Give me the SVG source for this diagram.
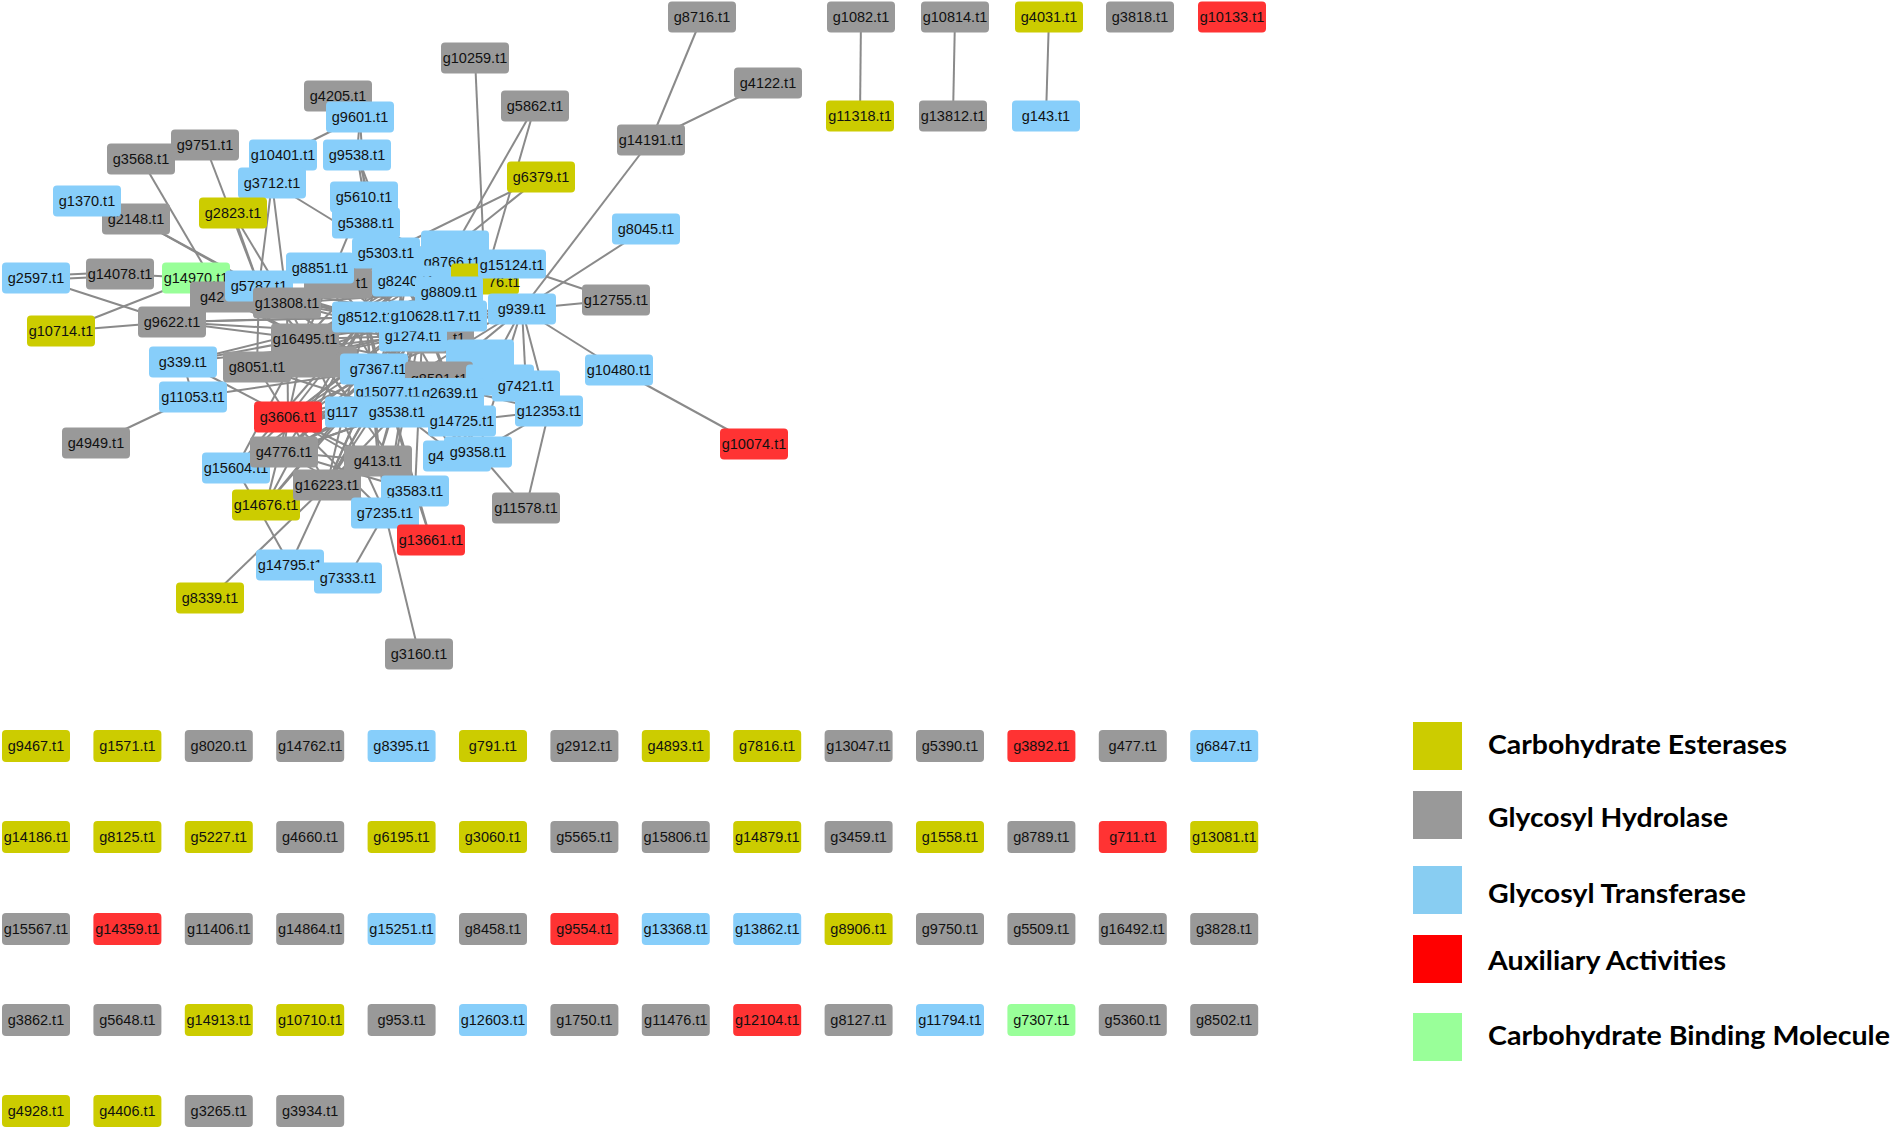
<svg xmlns="http://www.w3.org/2000/svg" width="1892" height="1130" viewBox="0 0 1892 1130">
<style>
.e line{stroke:#8a8a8a;stroke-width:2;fill:none}
.ce{fill:#cccc00}.gh{fill:#999999}.gt{fill:#87cefa}.aa{fill:#ff3333}.cb{fill:#99ff99}
text.t{font-family:"Liberation Sans",Arial,sans-serif;font-size:14.5px;text-anchor:middle;fill:#111}
text.s{font-family:"Liberation Sans",Arial,sans-serif;font-size:14.5px;fill:#111}
text.l{font-family:Lato,"Open Sans","Liberation Sans",sans-serif;font-size:27px;font-weight:bold;fill:#000}
</style>
<rect width="1892" height="1130" fill="#fff"/>
<g id="connectors" class="e">
<line x1="702" y1="17" x2="651" y2="140"/><line x1="768" y1="83" x2="651" y2="140"/><line x1="651" y1="140" x2="522" y2="309"/>
<line x1="475" y1="58" x2="485" y2="279"/><line x1="535" y1="106" x2="455" y2="246"/><line x1="535" y1="106" x2="485" y2="279"/>
<line x1="541" y1="177" x2="386" y2="253"/><line x1="541" y1="177" x2="366" y2="317"/>
<line x1="646" y1="229" x2="522" y2="309"/><line x1="616" y1="300" x2="522" y2="309"/><line x1="616" y1="300" x2="512" y2="265"/>
<line x1="619" y1="370" x2="522" y2="309"/><line x1="619" y1="370" x2="754" y2="444"/>
<line x1="526" y1="508" x2="549" y2="411"/><line x1="526" y1="508" x2="478" y2="452"/>
<line x1="419" y1="654" x2="385" y2="513"/><line x1="431" y1="540" x2="415" y2="491"/><line x1="431" y1="540" x2="388" y2="392"/>
<line x1="348" y1="578" x2="385" y2="513"/><line x1="290" y1="565" x2="327" y2="485"/><line x1="290" y1="565" x2="236" y2="468"/>
<line x1="210" y1="598" x2="327" y2="485"/><line x1="96" y1="443" x2="193" y2="397"/><line x1="193" y1="397" x2="378" y2="370"/>
<line x1="183" y1="362" x2="288" y2="417"/><line x1="183" y1="362" x2="305" y2="339"/><line x1="183" y1="362" x2="193" y2="397"/>
<line x1="61" y1="331" x2="172" y2="322"/><line x1="61" y1="331" x2="196" y2="278"/>
<line x1="36" y1="276" x2="120" y2="272"/><line x1="36" y1="280" x2="120" y2="276"/><line x1="36" y1="278" x2="172" y2="322"/>
<line x1="120" y1="274" x2="196" y2="278"/><line x1="141" y1="159" x2="222" y2="297"/>
<line x1="136" y1="219" x2="259" y2="286"/><line x1="136" y1="219" x2="287" y2="303"/><line x1="205" y1="145" x2="259" y2="286"/>
<line x1="233" y1="213" x2="259" y2="286"/><line x1="233" y1="213" x2="287" y2="303"/>
<line x1="272" y1="183" x2="259" y2="286"/><line x1="272" y1="183" x2="287" y2="303"/><line x1="272" y1="183" x2="386" y2="253"/>
<line x1="283" y1="155" x2="360" y2="117"/><line x1="360" y1="117" x2="357" y2="155"/><line x1="360" y1="117" x2="366" y2="223"/>
<line x1="357" y1="155" x2="364" y2="197"/><line x1="357" y1="155" x2="386" y2="253"/><line x1="357" y1="155" x2="406" y2="281"/>
<line x1="366" y1="223" x2="452" y2="262"/><line x1="366" y1="223" x2="449" y2="292"/>
<line x1="259" y1="286" x2="287" y2="303"/><line x1="259" y1="286" x2="320" y2="268"/><line x1="259" y1="286" x2="366" y2="317"/>
<line x1="259" y1="286" x2="305" y2="339"/><line x1="259" y1="286" x2="423" y2="316"/><line x1="259" y1="286" x2="413" y2="336"/>
<line x1="259" y1="286" x2="378" y2="370"/><line x1="259" y1="286" x2="257" y2="367"/>
<line x1="287" y1="303" x2="366" y2="317"/><line x1="287" y1="303" x2="423" y2="316"/><line x1="287" y1="303" x2="305" y2="339"/>
<line x1="287" y1="303" x2="449" y2="292"/><line x1="287" y1="303" x2="413" y2="336"/><line x1="287" y1="303" x2="288" y2="417"/>
<line x1="320" y1="268" x2="366" y2="317"/><line x1="320" y1="268" x2="423" y2="316"/><line x1="320" y1="268" x2="413" y2="336"/>
<line x1="320" y1="268" x2="305" y2="339"/><line x1="320" y1="268" x2="378" y2="370"/>
<line x1="386" y1="253" x2="366" y2="317"/><line x1="386" y1="253" x2="423" y2="316"/><line x1="386" y1="253" x2="413" y2="336"/><line x1="386" y1="253" x2="305" y2="339"/>
<line x1="406" y1="281" x2="366" y2="317"/><line x1="406" y1="281" x2="305" y2="339"/><line x1="406" y1="281" x2="378" y2="370"/><line x1="406" y1="281" x2="388" y2="392"/>
<line x1="366" y1="317" x2="305" y2="339"/><line x1="366" y1="317" x2="257" y2="367"/><line x1="366" y1="317" x2="378" y2="370"/>
<line x1="366" y1="317" x2="288" y2="417"/><line x1="366" y1="317" x2="284" y2="452"/><line x1="366" y1="317" x2="378" y2="461"/>
<line x1="423" y1="316" x2="305" y2="339"/><line x1="423" y1="316" x2="257" y2="367"/><line x1="423" y1="316" x2="288" y2="417"/><line x1="423" y1="316" x2="284" y2="452"/>
<line x1="449" y1="292" x2="305" y2="339"/><line x1="449" y1="292" x2="378" y2="370"/><line x1="449" y1="292" x2="288" y2="417"/>
<line x1="413" y1="336" x2="305" y2="339"/><line x1="413" y1="336" x2="257" y2="367"/><line x1="413" y1="336" x2="288" y2="417"/>
<line x1="413" y1="336" x2="284" y2="452"/><line x1="413" y1="336" x2="327" y2="485"/>
<line x1="305" y1="339" x2="288" y2="417"/><line x1="305" y1="339" x2="378" y2="370"/><line x1="305" y1="339" x2="388" y2="392"/><line x1="305" y1="339" x2="359" y2="412"/>
<line x1="257" y1="367" x2="378" y2="370"/><line x1="257" y1="367" x2="288" y2="417"/><line x1="257" y1="367" x2="397" y2="412"/>
<line x1="378" y1="370" x2="288" y2="417"/><line x1="378" y1="370" x2="284" y2="452"/><line x1="378" y1="370" x2="327" y2="485"/><line x1="378" y1="370" x2="522" y2="309"/>
<line x1="388" y1="392" x2="288" y2="417"/><line x1="388" y1="392" x2="284" y2="452"/><line x1="388" y1="392" x2="327" y2="485"/>
<line x1="450" y1="393" x2="288" y2="417"/><line x1="450" y1="393" x2="284" y2="452"/>
<line x1="397" y1="412" x2="284" y2="452"/><line x1="397" y1="412" x2="327" y2="485"/><line x1="397" y1="412" x2="288" y2="417"/>
<line x1="359" y1="412" x2="284" y2="452"/><line x1="359" y1="412" x2="327" y2="485"/>
<line x1="462" y1="421" x2="305" y2="339"/><line x1="462" y1="421" x2="366" y2="317"/><line x1="462" y1="421" x2="288" y2="417"/><line x1="462" y1="421" x2="423" y2="316"/>
<line x1="288" y1="417" x2="378" y2="461"/><line x1="288" y1="417" x2="415" y2="491"/><line x1="288" y1="417" x2="385" y2="513"/><line x1="288" y1="417" x2="284" y2="452"/>
<line x1="284" y1="452" x2="378" y2="461"/><line x1="284" y1="452" x2="385" y2="513"/><line x1="284" y1="452" x2="415" y2="491"/>
<line x1="378" y1="461" x2="423" y2="316"/><line x1="378" y1="461" x2="413" y2="336"/>
<line x1="327" y1="485" x2="366" y2="317"/><line x1="327" y1="485" x2="423" y2="316"/><line x1="327" y1="485" x2="288" y2="417"/>
<line x1="415" y1="491" x2="366" y2="317"/><line x1="415" y1="491" x2="423" y2="316"/><line x1="415" y1="491" x2="305" y2="339"/>
<line x1="385" y1="513" x2="366" y2="317"/><line x1="385" y1="513" x2="413" y2="336"/><line x1="385" y1="513" x2="305" y2="339"/><line x1="385" y1="513" x2="423" y2="316"/>
<line x1="478" y1="452" x2="366" y2="317"/><line x1="478" y1="452" x2="423" y2="316"/><line x1="478" y1="452" x2="305" y2="339"/>
<line x1="478" y1="452" x2="413" y2="336"/><line x1="478" y1="452" x2="378" y2="370"/>
<line x1="457" y1="456" x2="305" y2="339"/><line x1="457" y1="456" x2="366" y2="317"/>
<line x1="526" y1="386" x2="366" y2="317"/><line x1="526" y1="386" x2="423" y2="316"/><line x1="526" y1="386" x2="305" y2="339"/><line x1="526" y1="386" x2="378" y2="370"/>
<line x1="549" y1="411" x2="478" y2="452"/><line x1="549" y1="411" x2="462" y2="421"/><line x1="549" y1="411" x2="378" y2="370"/>
<line x1="522" y1="309" x2="366" y2="317"/><line x1="522" y1="309" x2="423" y2="316"/><line x1="522" y1="309" x2="305" y2="339"/>
<line x1="522" y1="309" x2="413" y2="336"/><line x1="522" y1="309" x2="257" y2="367"/><line x1="522" y1="309" x2="388" y2="392"/>
<line x1="522" y1="309" x2="397" y2="412"/><line x1="522" y1="309" x2="526" y2="386"/><line x1="522" y1="309" x2="549" y2="411"/>
<line x1="522" y1="309" x2="478" y2="452"/><line x1="522" y1="309" x2="462" y2="421"/>
<line x1="512" y1="265" x2="366" y2="317"/><line x1="512" y1="265" x2="305" y2="339"/><line x1="512" y1="265" x2="423" y2="316"/>
<line x1="485" y1="279" x2="305" y2="339"/><line x1="485" y1="279" x2="366" y2="317"/>
<line x1="452" y1="262" x2="366" y2="317"/><line x1="452" y1="262" x2="305" y2="339"/>
<line x1="455" y1="246" x2="305" y2="339"/><line x1="455" y1="246" x2="287" y2="303"/>
<line x1="172" y1="322" x2="305" y2="339"/><line x1="172" y1="322" x2="366" y2="317"/><line x1="172" y1="322" x2="423" y2="316"/><line x1="172" y1="322" x2="413" y2="336"/>
<line x1="196" y1="278" x2="287" y2="303"/><line x1="196" y1="278" x2="366" y2="317"/><line x1="196" y1="278" x2="305" y2="339"/>
<line x1="222" y1="297" x2="423" y2="316"/><line x1="222" y1="297" x2="305" y2="339"/>
<line x1="183" y1="362" x2="366" y2="317"/><line x1="183" y1="362" x2="413" y2="336"/>
<line x1="236" y1="468" x2="305" y2="339"/><line x1="236" y1="468" x2="413" y2="336"/><line x1="236" y1="468" x2="366" y2="317"/><line x1="236" y1="468" x2="288" y2="417"/>
<line x1="266" y1="505" x2="366" y2="317"/><line x1="266" y1="505" x2="423" y2="316"/><line x1="266" y1="505" x2="413" y2="336"/><line x1="266" y1="505" x2="288" y2="417"/>
<line x1="364" y1="197" x2="366" y2="317"/><line x1="364" y1="197" x2="423" y2="316"/><line x1="364" y1="197" x2="305" y2="339"/>
<line x1="861" y1="17" x2="860" y2="116"/><line x1="955" y1="17" x2="953" y2="116"/><line x1="1049" y1="17" x2="1046" y2="116"/>
</g>
<g id="network-nodes">
<g id="n-g8716"><rect class="gh" x="668" y="1.5" width="68" height="31" rx="4"/><text class="t" x="702" y="22">g8716.t1</text></g>
<g id="n-g4122"><rect class="gh" x="734" y="67.5" width="68" height="31" rx="4"/><text class="t" x="768" y="88">g4122.t1</text></g>
<g id="n-g14191"><rect class="gh" x="617" y="124.5" width="68" height="31" rx="4"/><text class="t" x="651" y="145">g14191.t1</text></g>
<g id="n-g10259"><rect class="gh" x="441" y="42.5" width="68" height="31" rx="4"/><text class="t" x="475" y="63">g10259.t1</text></g>
<g id="n-g5862"><rect class="gh" x="501" y="90.5" width="68" height="31" rx="4"/><text class="t" x="535" y="111">g5862.t1</text></g>
<g id="n-g6379"><rect class="ce" x="507" y="161.5" width="68" height="31" rx="4"/><text class="t" x="541" y="182">g6379.t1</text></g>
<g id="n-g1082"><rect class="gh" x="827" y="1.5" width="68" height="31" rx="4"/><text class="t" x="861" y="22">g1082.t1</text></g>
<g id="n-g10814"><rect class="gh" x="921" y="1.5" width="68" height="31" rx="4"/><text class="t" x="955" y="22">g10814.t1</text></g>
<g id="n-g4031"><rect class="ce" x="1015" y="1.5" width="68" height="31" rx="4"/><text class="t" x="1049" y="22">g4031.t1</text></g>
<g id="n-g3818"><rect class="gh" x="1106" y="1.5" width="68" height="31" rx="4"/><text class="t" x="1140" y="22">g3818.t1</text></g>
<g id="n-g10133"><rect class="aa" x="1198" y="1.5" width="68" height="31" rx="4"/><text class="t" x="1232" y="22">g10133.t1</text></g>
<g id="n-g11318"><rect class="ce" x="826" y="100.5" width="68" height="31" rx="4"/><text class="t" x="860" y="121">g11318.t1</text></g>
<g id="n-g13812"><rect class="gh" x="919" y="100.5" width="68" height="31" rx="4"/><text class="t" x="953" y="121">g13812.t1</text></g>
<g id="n-g143"><rect class="gt" x="1012" y="100.5" width="68" height="31" rx="4"/><text class="t" x="1046" y="121">g143.t1</text></g>
<g id="n-g4205"><rect class="gh" x="304" y="80.5" width="68" height="31" rx="4"/><text class="t" x="338" y="101">g4205.t1</text></g>
<g id="n-g9601"><rect class="gt" x="326" y="101.5" width="68" height="31" rx="4"/><text class="t" x="360" y="122">g9601.t1</text></g>
<g id="n-g10401"><rect class="gt" x="249" y="139.5" width="68" height="31" rx="4"/><text class="t" x="283" y="160">g10401.t1</text></g>
<g id="n-g9538"><rect class="gt" x="323" y="139.5" width="68" height="31" rx="4"/><text class="t" x="357" y="160">g9538.t1</text></g>
<g id="n-g3568"><rect class="gh" x="107" y="143.5" width="68" height="31" rx="4"/><text class="t" x="141" y="164">g3568.t1</text></g>
<g id="n-g9751"><rect class="gh" x="171" y="129.5" width="68" height="31" rx="4"/><text class="t" x="205" y="150">g9751.t1</text></g>
<g id="n-g3712"><rect class="gt" x="238" y="167.5" width="68" height="31" rx="4"/><text class="t" x="272" y="188">g3712.t1</text></g>
<g id="n-g2823"><rect class="ce" x="199" y="197.5" width="68" height="31" rx="4"/><text class="t" x="233" y="218">g2823.t1</text></g>
<g id="n-g2148"><rect class="gh" x="102" y="203.5" width="68" height="31" rx="4"/><text class="t" x="136" y="224">g2148.t1</text></g>
<g id="n-g1370"><rect class="gt" x="53" y="185.5" width="68" height="31" rx="4"/><text class="t" x="87" y="206">g1370.t1</text></g>
<g id="n-g5610"><rect class="gt" x="330" y="181.5" width="68" height="31" rx="4"/><text class="t" x="364" y="202">g5610.t1</text></g>
<g id="n-g5388"><rect class="gt" x="332" y="207.5" width="68" height="31" rx="4"/><text class="t" x="366" y="228">g5388.t1</text></g>
<g id="n-hidden-a"><rect class="gh" x="304" y="267.5" width="68" height="31" rx="4"/><text class="s" x="356" y="288">t1</text></g>
<g id="n-g5303"><rect class="gt" x="352" y="237.5" width="68" height="31" rx="4"/><text class="t" x="386" y="258">g5303.t1</text></g>
<g id="n-g8851"><rect class="gt" x="286" y="252.5" width="68" height="31" rx="4"/><text class="t" x="320" y="273">g8851.t1</text></g>
<g id="n-hidden-b"><rect class="gt" x="421" y="230.5" width="68" height="31" rx="4"/></g>
<g id="n-g8766"><rect class="gt" x="418" y="246.5" width="68" height="31" rx="4"/><text class="t" x="452" y="267">g8766.t1</text></g>
<g id="n-hidden-y"><rect class="ce" x="451" y="263.5" width="68" height="31" rx="4"/><text class="s" x="488" y="287">76.t1</text></g>
<g id="n-g15124"><rect class="gt" x="478" y="249.5" width="68" height="29" rx="4"/><text class="t" x="512" y="270">g15124.t1</text></g>
<g id="n-g8240"><rect class="gt" x="372" y="265.5" width="68" height="31" rx="4"/><text class="t" x="406" y="286">g8240.t1</text></g>
<g id="n-g8809"><rect class="gt" x="415" y="276.5" width="68" height="31" rx="4"/><text class="t" x="449" y="297">g8809.t1</text></g>
<g id="n-g939"><rect class="gt" x="488" y="293.5" width="68" height="31" rx="4"/><text class="t" x="522" y="314">g939.t1</text></g>
<g id="n-g14078"><rect class="gh" x="86" y="258.5" width="68" height="31" rx="4"/><text class="t" x="120" y="279">g14078.t1</text></g>
<g id="n-g2597"><rect class="gt" x="2" y="262.5" width="68" height="31" rx="4"/><text class="t" x="36" y="283">g2597.t1</text></g>
<g id="n-g14970"><rect class="cb" x="162" y="262.5" width="68" height="31" rx="4"/><text class="t" x="196" y="283">g14970.t1</text></g>
<g id="n-g9622"><rect class="gh" x="138" y="306.5" width="68" height="31" rx="4"/><text class="t" x="172" y="327">g9622.t1</text></g>
<g id="n-g42"><rect class="gh" x="190" y="281.5" width="68" height="31" rx="4"/><text class="s" x="200" y="302">g42</text></g>
<g id="n-g5787"><rect class="gt" x="225" y="270.5" width="68" height="31" rx="4"/><text class="t" x="259" y="291">g5787.t1</text></g>
<g id="n-g13808"><rect class="gh" x="253" y="287.5" width="68" height="31" rx="4"/><text class="t" x="287" y="308">g13808.t1</text></g>
<g id="n-g10714"><rect class="ce" x="27" y="315.5" width="68" height="31" rx="4"/><text class="t" x="61" y="336">g10714.t1</text></g>
<g id="n-g339"><rect class="gt" x="149" y="346.5" width="68" height="31" rx="4"/><text class="t" x="183" y="367">g339.t1</text></g>
<g id="n-g11053"><rect class="gt" x="159" y="381.5" width="68" height="31" rx="4"/><text class="t" x="193" y="402">g11053.t1</text></g>
<g id="n-g4949"><rect class="gh" x="62" y="427.5" width="68" height="31" rx="4"/><text class="t" x="96" y="448">g4949.t1</text></g>
<g id="n-hidden-c"><rect class="gh" x="289" y="346.5" width="68" height="31" rx="4"/></g>
<g id="n-g8051"><rect class="gh" x="223" y="351.5" width="68" height="31" rx="4"/><text class="t" x="257" y="372">g8051.t1</text></g>
<g id="n-g16495"><rect class="gh" x="271" y="323.5" width="68" height="31" rx="4"/><text class="t" x="305" y="344">g16495.t1</text></g>
<g id="n-hidden-d"><rect class="gh" x="406" y="322.5" width="68" height="31" rx="4"/><text class="s" x="449" y="343">.t1</text></g>
<g id="n-g1274"><rect class="gt" x="379" y="320.5" width="68" height="31" rx="4"/><text class="t" x="413" y="341">g1274.t1</text></g>
<g id="n-hidden-e"><rect class="gt" x="419" y="300.5" width="68" height="31" rx="4"/><text class="s" x="457" y="321">7.t1</text></g>
<g id="n-g8512"><rect class="gt" x="332" y="301.5" width="68" height="31" rx="4"/><text class="t" x="366" y="322">g8512.t1</text></g>
<g id="n-g10628"><rect class="gt" x="389" y="300.5" width="68" height="31" rx="4"/><text class="t" x="423" y="321">g10628.t1</text></g>
<g id="n-g7367"><rect class="gt" x="340" y="353.5" width="68" height="31" rx="4"/><text class="t" x="378" y="374">g7367.t1</text></g>
<g id="n-hidden-f"><rect class="gt" x="446" y="339.5" width="68" height="31" rx="4"/></g>
<g id="n-g8591"><rect class="gh" x="405" y="361.5" width="68" height="31" rx="4"/><text class="t" x="439" y="384">g8591.t1</text></g>
<g id="n-hidden-g"><rect class="gt" x="466" y="364.5" width="68" height="31" rx="4"/></g>
<g id="n-g2639"><rect class="gt" x="416" y="378" width="68" height="31" rx="4"/><text class="t" x="450" y="398">g2639.t1</text></g>
<g id="n-g15077"><rect class="gt" x="354" y="378" width="68" height="31" rx="4"/><text class="t" x="388" y="397">g15077.t1</text></g>
<g id="n-g7421"><rect class="gt" x="492" y="370.5" width="68" height="31" rx="4"/><text class="t" x="526" y="391">g7421.t1</text></g>
<g id="n-g117"><rect class="gt" x="325" y="396.5" width="68" height="31" rx="4"/><text class="s" x="327" y="417">g117</text></g>
<g id="n-g3538"><rect class="gt" x="363" y="396.5" width="68" height="31" rx="4"/><text class="t" x="397" y="417">g3538.t1</text></g>
<g id="n-g14725"><rect class="gt" x="428" y="405.5" width="68" height="31" rx="4"/><text class="t" x="462" y="426">g14725.t1</text></g>
<g id="n-g12353"><rect class="gt" x="515" y="395.5" width="68" height="31" rx="4"/><text class="t" x="549" y="416">g12353.t1</text></g>
<g id="n-g3606"><rect class="aa" x="254" y="401.5" width="68" height="31" rx="4"/><text class="t" x="288" y="422">g3606.t1</text></g>
<g id="n-g15604"><rect class="gt" x="202" y="452.5" width="68" height="31" rx="4"/><text class="t" x="236" y="473">g15604.t1</text></g>
<g id="n-g4776"><rect class="gh" x="250" y="436.5" width="68" height="31" rx="4"/><text class="t" x="284" y="457">g4776.t1</text></g>
<g id="n-g14676"><rect class="ce" x="232" y="489.5" width="68" height="31" rx="4"/><text class="t" x="266" y="510">g14676.t1</text></g>
<g id="n-g413"><rect class="gh" x="344" y="445.5" width="68" height="31" rx="4"/><text class="t" x="378" y="466">g413.t1</text></g>
<g id="n-g16223"><rect class="gh" x="293" y="469.5" width="68" height="31" rx="4"/><text class="t" x="327" y="490">g16223.t1</text></g>
<g id="n-g4"><rect class="gt" x="423" y="440.5" width="68" height="31" rx="4"/><text class="s" x="428" y="461">g4</text></g>
<g id="n-g9358"><rect class="gt" x="444" y="436.5" width="68" height="31" rx="4"/><text class="t" x="478" y="457">g9358.t1</text></g>
<g id="n-g11578"><rect class="gh" x="492" y="492.5" width="68" height="31" rx="4"/><text class="t" x="526" y="513">g11578.t1</text></g>
<g id="n-g3583"><rect class="gt" x="381" y="475.5" width="68" height="31" rx="4"/><text class="t" x="415" y="496">g3583.t1</text></g>
<g id="n-g7235"><rect class="gt" x="351" y="497.5" width="68" height="31" rx="4"/><text class="t" x="385" y="518">g7235.t1</text></g>
<g id="n-g13661"><rect class="aa" x="397" y="524.5" width="68" height="31" rx="4"/><text class="t" x="431" y="545">g13661.t1</text></g>
<g id="n-g14795"><rect class="gt" x="256" y="549.5" width="68" height="31" rx="4"/><text class="t" x="290" y="570">g14795.t1</text></g>
<g id="n-g7333"><rect class="gt" x="314" y="562.5" width="68" height="31" rx="4"/><text class="t" x="348" y="583">g7333.t1</text></g>
<g id="n-g3160"><rect class="gh" x="385" y="638.5" width="68" height="31" rx="4"/><text class="t" x="419" y="659">g3160.t1</text></g>
<g id="n-g8339"><rect class="ce" x="176" y="582.5" width="68" height="31" rx="4"/><text class="t" x="210" y="603">g8339.t1</text></g>
<g id="n-g8045"><rect class="gt" x="612" y="213.5" width="68" height="31" rx="4"/><text class="t" x="646" y="234">g8045.t1</text></g>
<g id="n-g12755"><rect class="gh" x="582" y="284.5" width="68" height="31" rx="4"/><text class="t" x="616" y="305">g12755.t1</text></g>
<g id="n-g10480"><rect class="gt" x="585" y="354.5" width="68" height="31" rx="4"/><text class="t" x="619" y="375">g10480.t1</text></g>
<g id="n-g10074"><rect class="aa" x="720" y="428.5" width="68" height="31" rx="4"/><text class="t" x="754" y="449">g10074.t1</text></g>
</g>
<g id="singletons">
<g id="r1">
<rect class="ce" x="2" y="730" width="68" height="32" rx="4"/><text class="t" x="36" y="751">g9467.t1</text>
<rect class="ce" x="93.4" y="730" width="68" height="32" rx="4"/><text class="t" x="127.4" y="751">g1571.t1</text>
<rect class="gh" x="184.8" y="730" width="68" height="32" rx="4"/><text class="t" x="218.8" y="751">g8020.t1</text>
<rect class="gh" x="276.2" y="730" width="68" height="32" rx="4"/><text class="t" x="310.2" y="751">g14762.t1</text>
<rect class="gt" x="367.6" y="730" width="68" height="32" rx="4"/><text class="t" x="401.6" y="751">g8395.t1</text>
<rect class="ce" x="459" y="730" width="68" height="32" rx="4"/><text class="t" x="493" y="751">g791.t1</text>
<rect class="gh" x="550.4" y="730" width="68" height="32" rx="4"/><text class="t" x="584.4" y="751">g2912.t1</text>
<rect class="ce" x="641.8" y="730" width="68" height="32" rx="4"/><text class="t" x="675.8" y="751">g4893.t1</text>
<rect class="ce" x="733.2" y="730" width="68" height="32" rx="4"/><text class="t" x="767.2" y="751">g7816.t1</text>
<rect class="gh" x="824.6" y="730" width="68" height="32" rx="4"/><text class="t" x="858.6" y="751">g13047.t1</text>
<rect class="gh" x="916" y="730" width="68" height="32" rx="4"/><text class="t" x="950" y="751">g5390.t1</text>
<rect class="aa" x="1007.4" y="730" width="68" height="32" rx="4"/><text class="t" x="1041.4" y="751">g3892.t1</text>
<rect class="gh" x="1098.8" y="730" width="68" height="32" rx="4"/><text class="t" x="1132.8" y="751">g477.t1</text>
<rect class="gt" x="1190.2" y="730" width="68" height="32" rx="4"/><text class="t" x="1224.2" y="751">g6847.t1</text>
</g>
<g id="r2">
<rect class="ce" x="2" y="821" width="68" height="32" rx="4"/><text class="t" x="36" y="842">g14186.t1</text>
<rect class="ce" x="93.4" y="821" width="68" height="32" rx="4"/><text class="t" x="127.4" y="842">g8125.t1</text>
<rect class="ce" x="184.8" y="821" width="68" height="32" rx="4"/><text class="t" x="218.8" y="842">g5227.t1</text>
<rect class="gh" x="276.2" y="821" width="68" height="32" rx="4"/><text class="t" x="310.2" y="842">g4660.t1</text>
<rect class="ce" x="367.6" y="821" width="68" height="32" rx="4"/><text class="t" x="401.6" y="842">g6195.t1</text>
<rect class="ce" x="459" y="821" width="68" height="32" rx="4"/><text class="t" x="493" y="842">g3060.t1</text>
<rect class="gh" x="550.4" y="821" width="68" height="32" rx="4"/><text class="t" x="584.4" y="842">g5565.t1</text>
<rect class="gh" x="641.8" y="821" width="68" height="32" rx="4"/><text class="t" x="675.8" y="842">g15806.t1</text>
<rect class="ce" x="733.2" y="821" width="68" height="32" rx="4"/><text class="t" x="767.2" y="842">g14879.t1</text>
<rect class="gh" x="824.6" y="821" width="68" height="32" rx="4"/><text class="t" x="858.6" y="842">g3459.t1</text>
<rect class="ce" x="916" y="821" width="68" height="32" rx="4"/><text class="t" x="950" y="842">g1558.t1</text>
<rect class="gh" x="1007.4" y="821" width="68" height="32" rx="4"/><text class="t" x="1041.4" y="842">g8789.t1</text>
<rect class="aa" x="1098.8" y="821" width="68" height="32" rx="4"/><text class="t" x="1132.8" y="842">g711.t1</text>
<rect class="ce" x="1190.2" y="821" width="68" height="32" rx="4"/><text class="t" x="1224.2" y="842">g13081.t1</text>
</g>
<g id="r3">
<rect class="gh" x="2" y="913" width="68" height="32" rx="4"/><text class="t" x="36" y="934">g15567.t1</text>
<rect class="aa" x="93.4" y="913" width="68" height="32" rx="4"/><text class="t" x="127.4" y="934">g14359.t1</text>
<rect class="gh" x="184.8" y="913" width="68" height="32" rx="4"/><text class="t" x="218.8" y="934">g11406.t1</text>
<rect class="gh" x="276.2" y="913" width="68" height="32" rx="4"/><text class="t" x="310.2" y="934">g14864.t1</text>
<rect class="gt" x="367.6" y="913" width="68" height="32" rx="4"/><text class="t" x="401.6" y="934">g15251.t1</text>
<rect class="gh" x="459" y="913" width="68" height="32" rx="4"/><text class="t" x="493" y="934">g8458.t1</text>
<rect class="aa" x="550.4" y="913" width="68" height="32" rx="4"/><text class="t" x="584.4" y="934">g9554.t1</text>
<rect class="gt" x="641.8" y="913" width="68" height="32" rx="4"/><text class="t" x="675.8" y="934">g13368.t1</text>
<rect class="gt" x="733.2" y="913" width="68" height="32" rx="4"/><text class="t" x="767.2" y="934">g13862.t1</text>
<rect class="ce" x="824.6" y="913" width="68" height="32" rx="4"/><text class="t" x="858.6" y="934">g8906.t1</text>
<rect class="gh" x="916" y="913" width="68" height="32" rx="4"/><text class="t" x="950" y="934">g9750.t1</text>
<rect class="gh" x="1007.4" y="913" width="68" height="32" rx="4"/><text class="t" x="1041.4" y="934">g5509.t1</text>
<rect class="gh" x="1098.8" y="913" width="68" height="32" rx="4"/><text class="t" x="1132.8" y="934">g16492.t1</text>
<rect class="gh" x="1190.2" y="913" width="68" height="32" rx="4"/><text class="t" x="1224.2" y="934">g3828.t1</text>
</g>
<g id="r4">
<rect class="gh" x="2" y="1004" width="68" height="32" rx="4"/><text class="t" x="36" y="1025">g3862.t1</text>
<rect class="gh" x="93.4" y="1004" width="68" height="32" rx="4"/><text class="t" x="127.4" y="1025">g5648.t1</text>
<rect class="ce" x="184.8" y="1004" width="68" height="32" rx="4"/><text class="t" x="218.8" y="1025">g14913.t1</text>
<rect class="ce" x="276.2" y="1004" width="68" height="32" rx="4"/><text class="t" x="310.2" y="1025">g10710.t1</text>
<rect class="gh" x="367.6" y="1004" width="68" height="32" rx="4"/><text class="t" x="401.6" y="1025">g953.t1</text>
<rect class="gt" x="459" y="1004" width="68" height="32" rx="4"/><text class="t" x="493" y="1025">g12603.t1</text>
<rect class="gh" x="550.4" y="1004" width="68" height="32" rx="4"/><text class="t" x="584.4" y="1025">g1750.t1</text>
<rect class="gh" x="641.8" y="1004" width="68" height="32" rx="4"/><text class="t" x="675.8" y="1025">g11476.t1</text>
<rect class="aa" x="733.2" y="1004" width="68" height="32" rx="4"/><text class="t" x="767.2" y="1025">g12104.t1</text>
<rect class="gh" x="824.6" y="1004" width="68" height="32" rx="4"/><text class="t" x="858.6" y="1025">g8127.t1</text>
<rect class="gt" x="916" y="1004" width="68" height="32" rx="4"/><text class="t" x="950" y="1025">g11794.t1</text>
<rect class="cb" x="1007.4" y="1004" width="68" height="32" rx="4"/><text class="t" x="1041.4" y="1025">g7307.t1</text>
<rect class="gh" x="1098.8" y="1004" width="68" height="32" rx="4"/><text class="t" x="1132.8" y="1025">g5360.t1</text>
<rect class="gh" x="1190.2" y="1004" width="68" height="32" rx="4"/><text class="t" x="1224.2" y="1025">g8502.t1</text>
</g>
<g id="r5">
<rect class="ce" x="2" y="1095" width="68" height="32" rx="4"/><text class="t" x="36" y="1116">g4928.t1</text>
<rect class="ce" x="93.4" y="1095" width="68" height="32" rx="4"/><text class="t" x="127.4" y="1116">g4406.t1</text>
<rect class="gh" x="184.8" y="1095" width="68" height="32" rx="4"/><text class="t" x="218.8" y="1116">g3265.t1</text>
<rect class="gh" x="276.2" y="1095" width="68" height="32" rx="4"/><text class="t" x="310.2" y="1116">g3934.t1</text>
</g>
</g>
<g id="legend">
<rect x="1413" y="722" width="49" height="48" fill="#cccc00"/><text class="l" x="1488" y="754" textLength="299" lengthAdjust="spacingAndGlyphs">Carbohydrate Esterases</text>
<rect x="1413" y="791" width="49" height="48" fill="#999999"/><text class="l" x="1488" y="827" textLength="240" lengthAdjust="spacingAndGlyphs">Glycosyl Hydrolase</text>
<rect x="1413" y="866" width="49" height="48" fill="#88cdf2"/><text class="l" x="1488" y="903" textLength="258" lengthAdjust="spacingAndGlyphs">Glycosyl Transferase</text>
<rect x="1413" y="935" width="49" height="48" fill="#ff0000"/><text class="l" x="1488" y="970" textLength="238" lengthAdjust="spacingAndGlyphs">Auxiliary Activities</text>
<rect x="1413" y="1013" width="49" height="48" fill="#99ff99"/><text class="l" x="1488" y="1045" textLength="402" lengthAdjust="spacingAndGlyphs">Carbohydrate Binding Molecule</text>
</g>
</svg>
